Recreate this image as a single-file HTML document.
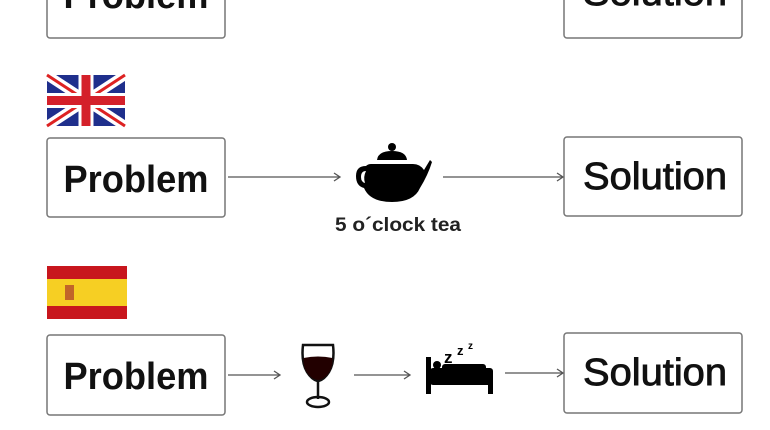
<!DOCTYPE html>
<html><head><meta charset="utf-8"><style>
html,body{margin:0;padding:0;background:#fff;width:770px;height:430px;overflow:hidden}
svg{display:block}
.b{fill:#fff;stroke:#777;stroke-width:1.5}
.p{font-family:"Liberation Sans",sans-serif;font-weight:bold;font-size:38px;fill:#111}
.s{font-family:"Liberation Sans",sans-serif;font-size:38px;fill:#111;stroke:#111;stroke-width:0.9}
.a{stroke:#555;stroke-width:1.3;fill:none}
</style></head><body>
<svg width="770" height="430" viewBox="0 0 770 430" xmlns="http://www.w3.org/2000/svg">
<rect class="b" x="47" y="-42" width="178" height="80" rx="3"/>
<text class="p" x="136" y="8" text-anchor="middle" textLength="145" lengthAdjust="spacingAndGlyphs">Problem</text>
<rect class="b" x="564" y="-42" width="178" height="80" rx="3"/>
<text class="s" x="655" y="5" text-anchor="middle" textLength="144" lengthAdjust="spacingAndGlyphs">Solution</text>
<g transform="translate(47,75)">
<rect width="78" height="51" fill="#1f2f8c"/>
<path d="M0 0L78 51M78 0L0 51" stroke="#fff" stroke-width="10"/>
<path d="M0 0L78 51M78 0L0 51" stroke="#d22" stroke-width="3"/>
<path d="M39 0V51M0 25.5H78" stroke="#fff" stroke-width="15"/>
<path d="M39 0V51M0 25.5H78" stroke="#d4202a" stroke-width="9"/>
</g>
<rect class="b" x="47" y="138" width="178" height="79" rx="3"/>
<text class="p" x="136" y="192" text-anchor="middle" textLength="145" lengthAdjust="spacingAndGlyphs">Problem</text>
<rect class="b" x="564" y="137" width="178" height="79" rx="3"/>
<text class="s" x="655" y="189" text-anchor="middle" textLength="144" lengthAdjust="spacingAndGlyphs">Solution</text>
<path class="a" d="M228 177H340M334 173L340 177L334 181"/>
<path class="a" d="M443 177H563M557 173L563 177L557 181"/>
<g fill="#000">
<circle cx="392" cy="147" r="4"/>
<path d="M377 160Q378 151 392 151Q406 151 407 160Z"/>
<path d="M371 164H413Q420 164 424 170L430 160L432 162Q428 175 420 188Q414 202 392 202Q370 202 364 188Q356 186 356 176Q356 166 366 166Q368 164 371 164Z"/>
</g>
<path d="M366 171Q361 171 361 177Q361 182 365 183Q363 177 366 171Z" fill="#fff"/>
<text x="398" y="231" text-anchor="middle" font-family="Liberation Sans,sans-serif" font-weight="bold" font-size="19" fill="#222" textLength="126" lengthAdjust="spacingAndGlyphs">5 o´clock tea</text>
<g transform="translate(47,266)">
<rect width="80" height="53" fill="#c8161d"/>
<rect y="13" width="80" height="27" fill="#f6cf23"/>
<rect x="18" y="19" width="9" height="15" fill="#b44a2a" opacity="0.8"/>
</g>
<rect class="b" x="47" y="335" width="178" height="80" rx="3"/>
<text class="p" x="136" y="389" text-anchor="middle" textLength="145" lengthAdjust="spacingAndGlyphs">Problem</text>
<rect class="b" x="564" y="333" width="178" height="80" rx="3"/>
<text class="s" x="655" y="385" text-anchor="middle" textLength="144" lengthAdjust="spacingAndGlyphs">Solution</text>
<path class="a" d="M228 375H280M274 371L280 375L274 379"/>
<path class="a" d="M354 375H410M404 371L410 375L404 379"/>
<path class="a" d="M505 373H563M557 369L563 373L557 377"/>
<g>
<path d="M303 345H333Q335 362 329 372Q324 380 318 381Q312 380 307 372Q301 362 303 345Z" fill="none" stroke="#111" stroke-width="2.5"/>
<path d="M303.5 358Q318 355 332.5 358Q333 368 328 374Q323 380 318 380Q313 380 308 374Q303 368 303.5 358Z" fill="#200"/>
<path d="M318 381V399" stroke="#111" stroke-width="2.5"/>
<ellipse cx="318" cy="402" rx="11" ry="5" fill="none" stroke="#111" stroke-width="2.5"/>
</g>
<g fill="#000">
<rect x="426" y="357" width="5" height="37"/>
<circle cx="437" cy="365" r="4"/>
<rect x="430" y="368" width="63" height="17" rx="3"/>
<rect x="442" y="364" width="44" height="8" rx="3"/>
<rect x="488" y="378" width="5" height="16"/>
<text x="444" y="363" font-family="Liberation Sans,sans-serif" font-weight="bold" font-size="17">z</text>
<text x="457" y="355" font-family="Liberation Sans,sans-serif" font-weight="bold" font-size="13">z</text>
<text x="468" y="349" font-family="Liberation Sans,sans-serif" font-weight="bold" font-size="10">z</text>
</g>
</svg>
</body></html>
